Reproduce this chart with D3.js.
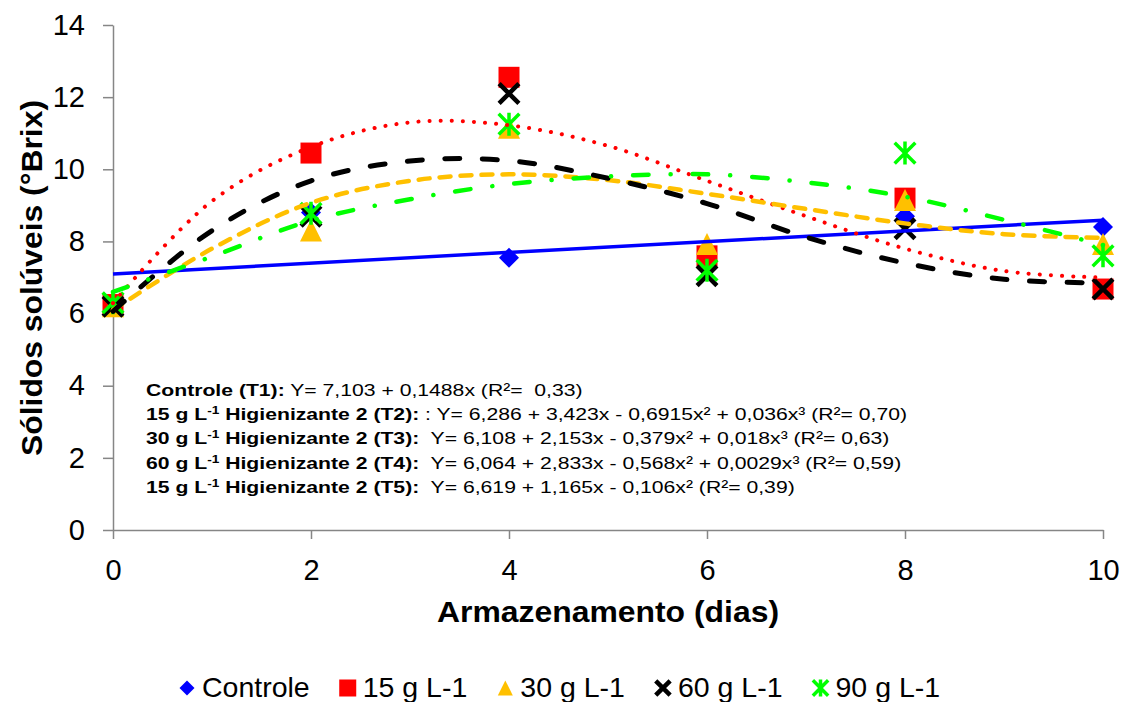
<!DOCTYPE html>
<html>
<head>
<meta charset="utf-8">
<script src="https://cdn.jsdelivr.net/npm/d3@7"></script>
<style>
body { margin: 0; background: #fff; }
text { font-family: "Liberation Sans", Arial, sans-serif; fill: #000; }
</style>
</head>
<body>
<svg id="chart" width="1125" height="702"></svg>
<script>
// observed values (°Brix) per storage day
var days = [0, 2, 4, 6, 8, 10];
var seriesNames = ["Controle", "15 g L-1", "30 g L-1", "60 g L-1", "90 g L-1"];
var controle = [6.25, 8.8, 7.55, 7.6, 8.7, 8.4];
var dose15 = [6.25, 10.45, 12.55, 7.6, 9.2, 6.68];
var dose30 = [6.2, 8.3, 11.15, 7.93, 9.15, 7.93];
var dose60 = [6.2, 8.7, 12.1, 7.05, 8.35, 6.68];
var dose90 = [6.3, 8.78, 11.25, 7.2, 10.45, 7.6];

// trendlines
var trendDaysLin = [0, 10];
var trendControle = [7.1, 8.59];
var trendDays = [0, 1, 2, 3, 4, 5, 6, 7, 8, 9, 10];
var trend15 = [6.29, 9.12, 10.62, 11.3, 11.22, 10.65, 9.68, 8.7, 7.8, 7.18, 7.0];
var trend30 = [6.1, 7.8, 9.07, 9.68, 9.86, 9.7, 9.32, 8.9, 8.5, 8.2, 8.1];
var trend60 = [6.06, 8.3, 9.68, 10.23, 10.24, 9.75, 9.05, 8.12, 7.4, 6.95, 6.85];
var trend90 = [6.6, 7.58, 8.58, 9.17, 9.59, 9.8, 9.86, 9.64, 9.24, 8.6, 7.9];

var xTicks = [0, 2, 4, 6, 8, 10];
var yTicks = [0, 2, 4, 6, 8, 10, 12, 14];

var eqLabels = [
  ["Controle (T1):"],
  ["15 g L", "-1", " Higienizante 2 (T2):"],
  ["30 g L", "-1", " Higienizante 2 (T3):"],
  ["60 g L", "-1", " Higienizante 2 (T4):"],
  ["15 g L", "-1", " Higienizante 2 (T5):"]
];
var eqTexts = [
  " Y= 7,103 + 0,1488x (R\u00b2=  0,33)",
  " : Y= 6,286 + 3,423x - 0,6915x\u00b2 + 0,036x\u00b3 (R\u00b2= 0,70)",
  "  Y= 6,108 + 2,153x - 0,379x\u00b2 + 0,018x\u00b3 (R\u00b2= 0,63)",
  "  Y= 6,064 + 2,833x - 0,568x\u00b2 + 0,0029x\u00b3 (R\u00b2= 0,59)",
  "  Y= 6,619 + 1,165x - 0,106x\u00b2 (R\u00b2= 0,39)"
];

var svg = d3.select("#chart");
var x = d3.scaleLinear().domain([0, 10]).range([113, 1103]);
var y = d3.scaleLinear().domain([0, 14]).range([530, 25]);

var series = [
  {values: controle, tx: trendDaysLin, ty: trendControle, color: "#0000ff", marker: "diamond", dash: null, cap: "butt", w: 3.5},
  {values: dose15, tx: trendDays, ty: trend15, color: "#ff0000", marker: "square", dash: "0.1,11", cap: "round", w: 4},
  {values: dose30, tx: trendDays, ty: trend30, color: "#ffc000", marker: "triangle", dash: "11,10", cap: "round", w: 4.5},
  {values: dose60, tx: trendDays, ty: trend60, color: "#000000", marker: "cross", dash: "15,22.5", cap: "round", w: 5},
  {values: dose90, tx: trendDays, ty: trend90, color: "#00ff00", marker: "star", dash: "15.5,22,0.1,22", cap: "round", w: 4.5}
];

// axes
var yAxis = svg.append("g")
  .attr("transform", "translate(" + x(0) + ",0)")
  .call(d3.axisLeft(y).tickValues(yTicks).tickSize(10).tickSizeOuter(0).tickPadding(18));
var xAxis = svg.append("g")
  .attr("transform", "translate(0," + y(0) + ")")
  .call(d3.axisBottom(x).tickValues(xTicks).tickSize(9).tickSizeOuter(0).tickPadding(20));
[xAxis, yAxis].forEach(function(a){
  a.selectAll("path, line").attr("stroke", "#868686").attr("stroke-width", 1.5);
  a.selectAll("text").style("font-size", "29px").attr("fill", "#000");
});

function drawMarker(g, type, s, color){
  if (type === "diamond") {
    g.append("path").attr("d", "M0," + (-s) + "L" + s + ",0L0," + s + "L" + (-s) + ",0Z").attr("fill", color);
  } else if (type === "square") {
    g.append("rect").attr("x", -s).attr("y", -s).attr("width", 2 * s).attr("height", 2 * s).attr("fill", color);
  } else if (type === "triangle") {
    g.append("path").attr("d", "M0," + (-s) + "L" + s + "," + s + "L" + (-s) + "," + s + "Z").attr("fill", color);
  } else {
    var k = s * 0.9;
    g.append("path")
      .attr("d", "M" + (-k) + "," + (-k) + "L" + k + "," + k + "M" + k + "," + (-k) + "L" + (-k) + "," + k +
        (type === "star" ? "M0," + (-s) + "L0," + s : ""))
      .attr("stroke", color).attr("stroke-width", type === "star" ? 3.5 : 4.5).attr("fill", "none");
  }
}

var markerSize = {diamond: 10, square: 10.5, triangle: 11, cross: 11, star: 11.5};

// markers
series.forEach(function(s){
  var g = svg.append("g");
  s.values.forEach(function(v, i){
    var m = g.append("g").attr("transform", "translate(" + x(days[i]) + "," + y(v) + ")");
    drawMarker(m, s.marker, markerSize[s.marker], s.color);
  });
});

// trendlines
series.forEach(function(s){
  var pts = s.tx.map(function(d, i){ return [d, s.ty[i]]; });
  var line = d3.line()
    .x(function(d){ return x(d[0]); })
    .y(function(d){ return y(d[1]); })
    .curve(d3.curveCatmullRom.alpha(0.5));
  svg.append("path")
    .attr("d", line(pts))
    .attr("fill", "none")
    .attr("stroke", s.color)
    .attr("stroke-width", s.w)
    .attr("stroke-linecap", s.cap)
    .attr("stroke-dasharray", s.dash);
});

// equation box
var eq = svg.append("g");
eqLabels.forEach(function(parts, i){
  var t = eq.append("text").attr("x", 0).attr("y", i * 24.2)
    .style("font-size", "17px").style("white-space", "pre");
  parts.forEach(function(p, j){
    var sp = t.append("tspan").text(p).style("font-weight", "bold");
    if (j === 1) sp.attr("dy", -6).style("font-size", "11px");
    if (j === 2) sp.attr("dy", 6);
  });
  t.append("tspan").text(eqTexts[i]);
});
var eqW = eq.select("text").node().getBBox().width;
eq.attr("transform", "translate(146,396) scale(" + (437 / eqW) + ",1)");

// axis titles
svg.append("text")
  .attr("x", 608).attr("y", 622)
  .attr("text-anchor", "middle")
  .style("font-size", "29px").style("font-weight", "bold")
  .attr("textLength", 342).attr("lengthAdjust", "spacingAndGlyphs")
  .text("Armazenamento (dias)");
svg.append("text")
  .attr("transform", "translate(42,278) rotate(-90)")
  .attr("text-anchor", "middle")
  .style("font-size", "29px").style("font-weight", "bold")
  .attr("textLength", 356).attr("lengthAdjust", "spacingAndGlyphs")
  .text("Sólidos solúveis (°Brix)");

// legend
var legendMarker = {diamond: 7.5, square: 8.5, triangle: 7.5, cross: 8, star: 8.5};
var lx = 187;
series.forEach(function(s, i){
  var m = svg.append("g").attr("transform", "translate(" + lx + ",688)");
  drawMarker(m, s.marker, legendMarker[s.marker], s.color);
  var t = svg.append("text").attr("x", lx + 15).attr("y", 697)
    .style("font-size", "28.5px").text(seriesNames[i]);
  lx = lx + 15 + t.node().getComputedTextLength() + 38;
});
</script>
</body>
</html>
